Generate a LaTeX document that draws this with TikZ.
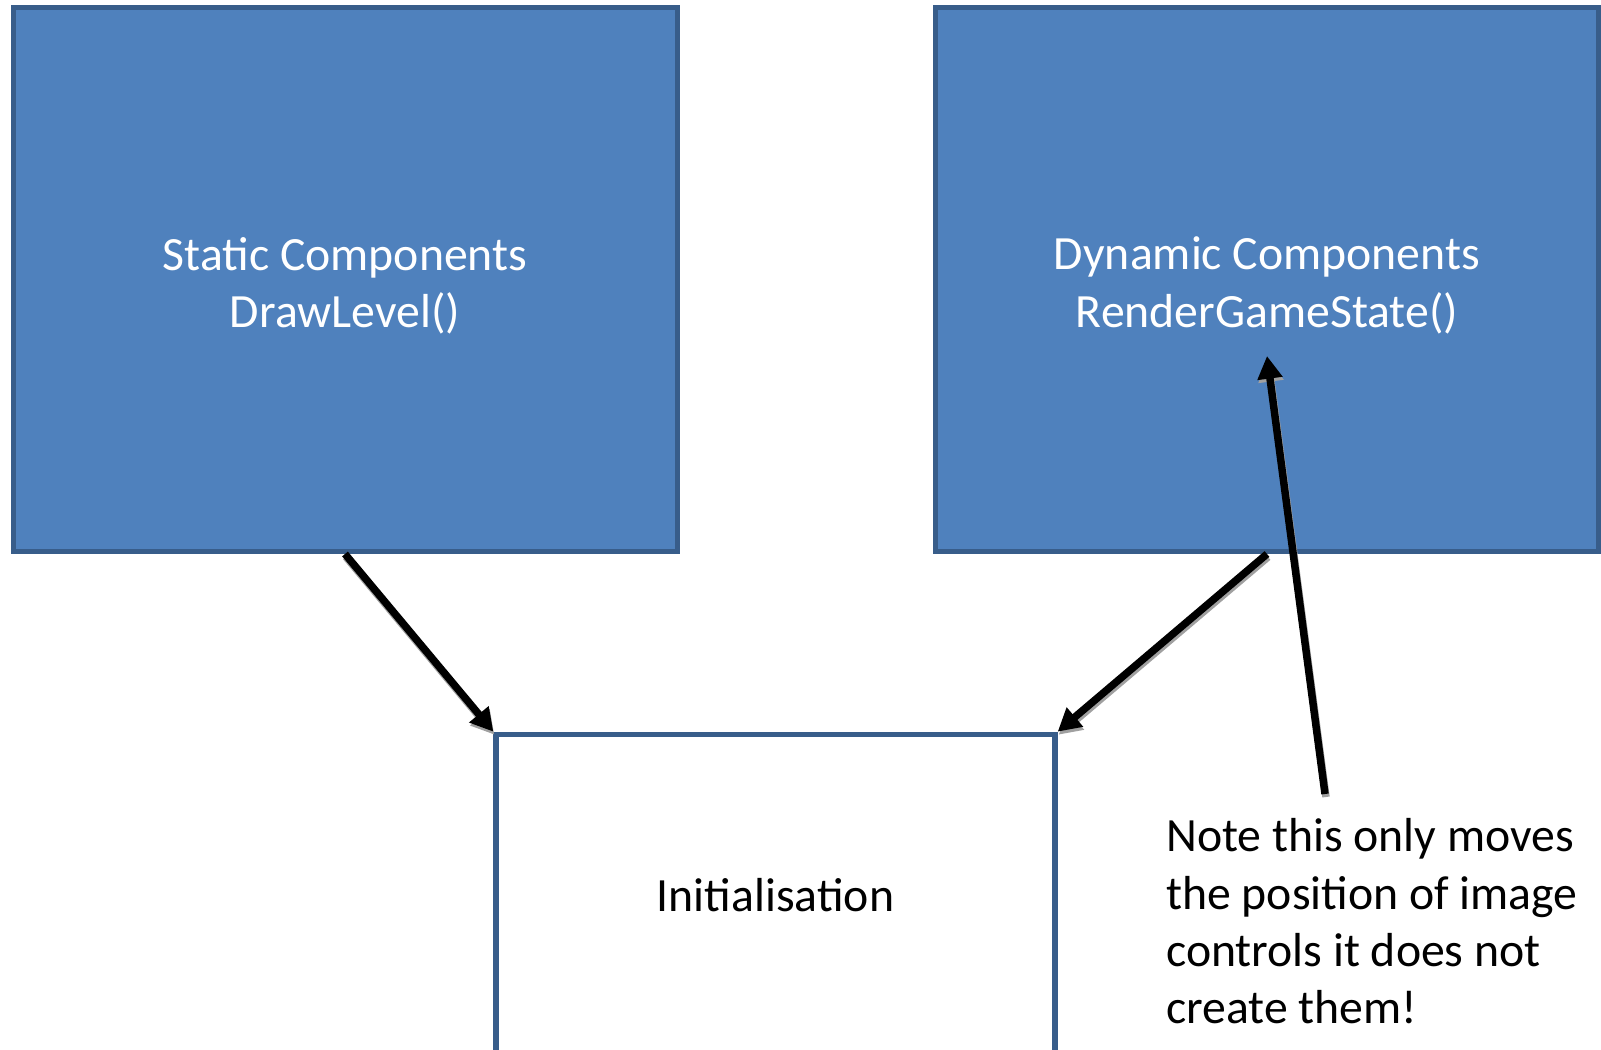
\documentclass[tikz,border=0pt]{standalone}
\usepackage{fontspec}
\setmainfont{Carlito}
\usetikzlibrary{arrows.meta}

\definecolor{boxfill}{HTML}{4F81BD}
\definecolor{boxline}{HTML}{385D8A}
\definecolor{dropgray}{HTML}{A0A0A0}

\tikzset{
  compbox/.style={draw=boxline, fill=boxfill, line width=3.75pt, inner sep=0pt},
  initbox/.style={draw=boxline, fill=white, line width=4pt, inner sep=0pt},
  pointer/.style={line width=5.6pt, draw=black,
    -{Triangle[length=17pt,width=18pt]}},
  pointershadow/.style={pointer, draw=dropgray, fill=dropgray,
    transform canvas={shift={(1,3)}}},
  bigtext/.style={font=\fontsize{35.8}{43}\selectfont}
}

\begin{document}
\begin{tikzpicture}[x=0.75pt, y=-0.75pt]
  \useasboundingbox (0,0) rectangle (1601,1049);
  \clip (0,0) rectangle (1601,1049);

  % the three boxes
  \node[compbox, minimum width=498pt, minimum height=408pt]
    (stat) at (345,279.5) {};
  \node[compbox, minimum width=497.25pt, minimum height=408pt]
    (dyn) at (1267,279.5) {};
  \node[initbox, minimum width=419.25pt, minimum height=241pt]
    (init) at (775.5,895) {};

  % box texts
  \node[bigtext, text=white, align=center] (statlabel) at (345,285.5)
    {Static Components\\DrawLevel()};
  \node[bigtext, text=white, align=center] (dynlabel) at (1267,285.5)
    {Dynamic Components\\RenderGameState()};
  \node[bigtext] (initlabel) at (775.5,895) {Initialisation};

  % note beside the init box
  \node[bigtext, align=left, anchor=north west, inner sep=0pt]
    (note) at (1166,818.5) {Note this only moves\\the position of image\\controls it does not\\create them!};
  \coordinate (notetail) at (1325,794);
  \coordinate (gamestate) at (1267,356);

  % arrows, each with a drop shadow
  \foreach \a/\b in {stat.south/init.north west, dyn.south/init.north east, notetail/gamestate} {
    \draw[pointershadow] (\a) -- (\b);
    \draw[pointer] (\a) -- (\b);
  }
\end{tikzpicture}
\end{document}
